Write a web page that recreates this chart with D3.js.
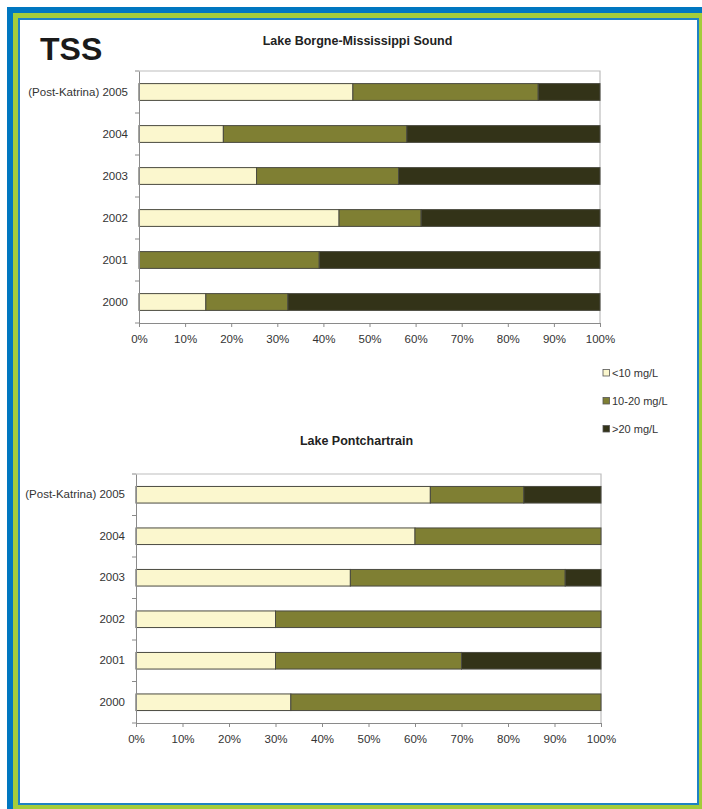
<!DOCTYPE html>
<html>
<head>
<meta charset="utf-8">
<script src="https://cdn.jsdelivr.net/npm/d3@7"></script>
<style>
  html, body { margin: 0; padding: 0; background: #fff; }
  svg { display: block; }
  text { font-family: "Liberation Sans", Arial, sans-serif; }
</style>
</head>
<body>
<svg id="chart" width="702" height="809"></svg>
<script>
// ---- Data ----
const categories = ["2000", "2001", "2002", "2003", "2004", "(Post-Katrina) 2005"];
const seriesNames = ["<10 mg/L", "10-20 mg/L", ">20 mg/L"];
const seriesColors = ["#FBF7CE", "#7F7F33", "#333318"];
const xTicks = [0, 10, 20, 30, 40, 50, 60, 70, 80, 90, 100];

// Lake Borgne-Mississippi Sound (percent of samples)
const borgneLow  = [14.5,  0.0, 43.4, 25.5, 18.3, 46.4];
const borgneMid  = [17.8, 39.1, 17.8, 30.8, 39.8, 40.2];
const borgneHigh = [67.7, 60.9, 38.8, 43.7, 41.9, 13.4];

// Lake Pontchartrain (percent of samples)
const pontLow  = [33.3, 30.0, 30.0, 46.1, 60.0, 63.3];
const pontMid  = [66.7, 40.0, 70.0, 46.2, 40.0, 20.1];
const pontHigh = [ 0.0, 30.0,  0.0,  7.7,  0.0, 16.6];

const svg = d3.select("#chart");

// ---- Frame ----
svg.append("rect").attr("x", 7).attr("y", 7).attr("width", 720).attr("height", 820).attr("fill", "#0077C0");
svg.append("rect").attr("x", 13).attr("y", 13).attr("width", 700).attr("height", 810).attr("fill", "#A3CD3A");
svg.append("rect").attr("x", 18).attr("y", 18).attr("width", 681).attr("height", 787).attr("fill", "#1E82C4");
svg.append("rect").attr("x", 20).attr("y", 20).attr("width", 677).attr("height", 783).attr("fill", "#FFFFFF");

// ---- Big label ----
svg.append("text").attr("x", 40).attr("y", 60)
  .attr("font-size", 32).attr("font-weight", "bold").attr("fill", "#1a1a1a").text("TSS");

function drawChart(cfg) {
  const g = svg.append("g");
  const x = d3.scaleLinear().domain([0, 100]).range([cfg.x0, cfg.x1]);
  const y = d3.scaleBand().domain(categories.slice().reverse())
    .range([cfg.y0, cfg.y1]).paddingInner(0.6).paddingOuter(0.3);

  // Title
  g.append("text").attr("x", (cfg.x0 + cfg.x1) / 2 - 12).attr("y", cfg.titleY)
    .attr("text-anchor", "middle").attr("font-size", 12.5).attr("font-weight", "bold")
    .attr("fill", "#222").text(cfg.title);

  // Plot border (top and right)
  g.append("path")
    .attr("d", `M${cfg.x0},${cfg.y0}H${cfg.x1}V${cfg.y1}`)
    .attr("fill", "none").attr("stroke", "#BDBDBD").attr("stroke-width", 1.2);

  // Stacked bars
  const data = categories.map((c, i) => ({ cat: c, vals: [cfg.low[i], cfg.mid[i], cfg.high[i]] }));
  const stack = d3.stack().keys([0, 1, 2]).value((d, k) => d.vals[k]);
  const layers = stack(data);
  layers.forEach((layer, k) => {
    g.selectAll(null).data(layer.filter(d => d[1] - d[0] > 0.001)).enter().append("rect")
      .attr("x", d => x(d[0]))
      .attr("y", d => y(d.data.cat))
      .attr("width", d => x(d[1]) - x(d[0]))
      .attr("height", y.bandwidth())
      .attr("fill", seriesColors[k])
      .attr("stroke", "#4a4a40").attr("stroke-width", 1);
  });

  // Left axis
  const yAxis = d3.axisLeft(y).tickSize(0).tickPadding(11);
  const ya = g.append("g").attr("transform", `translate(${cfg.x0},0)`).call(yAxis);
  ya.select(".domain").attr("stroke", "#8a8a8a");
  ya.selectAll("text").attr("font-size", 11.5).attr("fill", "#333")
    .attr("font-family", "'Liberation Sans', Arial, sans-serif");
  // category boundary ticks
  const bounds = d3.range(categories.length + 1).map(i => cfg.y0 + i * y.step() - (i === 0 ? 0 : 0));
  const step = (cfg.y1 - cfg.y0) / categories.length;
  g.selectAll(null).data(d3.range(categories.length + 1)).enter().append("line")
    .attr("x1", cfg.x0 - 4).attr("x2", cfg.x0)
    .attr("y1", i => cfg.y0 + i * step).attr("y2", i => cfg.y0 + i * step)
    .attr("stroke", "#8a8a8a");

  // Bottom axis
  const xAxis = d3.axisBottom(x).tickValues(xTicks).tickFormat(d => d + "%").tickSize(4).tickPadding(8);
  const xa = g.append("g").attr("transform", `translate(0,${cfg.y1})`).call(xAxis);
  xa.select(".domain").attr("stroke", "#8a8a8a");
  xa.selectAll(".tick line").attr("stroke", "#8a8a8a");
  xa.selectAll("text").attr("font-size", 11.5).attr("fill", "#333")
    .attr("font-family", "'Liberation Sans', Arial, sans-serif");
}

drawChart({
  title: "Lake Borgne-Mississippi Sound", titleY: 45,
  x0: 139, x1: 600, y0: 71, y1: 323,
  low: borgneLow, mid: borgneMid, high: borgneHigh
});

drawChart({
  title: "Lake Pontchartrain", titleY: 445,
  x0: 136, x1: 601, y0: 474, y1: 723,
  low: pontLow, mid: pontMid, high: pontHigh
});

// ---- Legend ----
const legend = svg.append("g");
const legendY = [373, 401, 429];
seriesNames.forEach((name, i) => {
  legend.append("rect").attr("x", 603).attr("y", legendY[i] - 3.5).attr("width", 6.5).attr("height", 6.5)
    .attr("fill", seriesColors[i]).attr("stroke", "#555").attr("stroke-width", 0.8);
  legend.append("text").attr("x", 612).attr("y", legendY[i] + 4)
    .attr("font-size", 11).attr("fill", "#333").text(name);
});
</script>
</body>
</html>
